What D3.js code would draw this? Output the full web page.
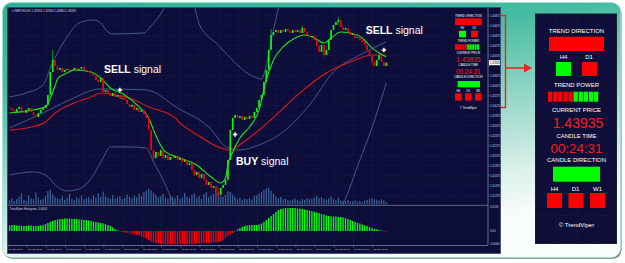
<!doctype html>
<meta charset="utf-8">
<style>
  html, body { margin: 0; padding: 0; background: #fff; }
  svg { display: block; }
  text { font-family: "Liberation Sans", Arial, sans-serif; }
</style>
<svg id="chart" width="625" height="263"></svg>
<script src="https://cdn.jsdelivr.net/npm/d3@7"></script>
<script>

// ---- data ----
const symbolTitle = "\u25BE GBPUSD,H1  1.43920 1.43940 1.43880 1.43935";
const histTitle = "TrendViper Histogram -0.0003";

const xLabels = ["11 Mar 2016","11 Mar 08:00","11 Mar 16:00","14 Mar 00:00","14 Mar 08:00",
  "14 Mar 16:00","15 Mar 00:00","15 Mar 08:00","15 Mar 16:00","16 Mar 00:00","16 Mar 08:00",
  "16 Mar 16:00","17 Mar 00:00","17 Mar 08:00","17 Mar 16:00","18 Mar 00:00","18 Mar 08:00",
  "18 Mar 16:00","21 Mar 00:00","21 Mar 08:00"];
const barsPerLabel = 8;

const priceTicks = [1.44875,1.44675,1.44475,1.44275,1.44075,1.43875,1.43675,1.43475,1.43275,
  1.43075,1.42875,1.42675,1.42475,1.42275,1.42075,1.41875,1.41675,1.41475,1.41275];
const histTicks = [0.0118, 0, -0.0064];
const histTickLabels = ["0.0118", "0.00", "-0.0064"];

const firstOpen = 1.4305;
const closes = [
  1.4303,1.4299,1.4295,1.4301,1.4305,1.4297,1.4293,1.4299,1.4303,1.4295,1.4289,1.4285,1.4293,1.4299,1.4303,
  1.4309,1.4329,1.4375,1.4399,1.4387,1.4379,1.4383,1.4375,1.4379,1.4381,1.4377,1.4379,1.4383,1.4379,1.4381,
  1.4385,1.4379,1.4377,1.4375,1.4371,1.4367,1.4359,1.4355,1.4363,1.4335,1.4339,1.4331,1.4327,1.4333,1.4325,
  1.4329,1.4321,1.4323,1.4319,1.4311,1.4305,1.4309,1.4299,1.4303,1.4295,1.4299,1.4291,1.4283,1.4259,1.4219,
  1.4203,1.4215,1.4207,1.4219,1.4203,1.4209,1.4199,1.4205,1.4203,1.4207,1.4199,1.4203,1.4195,1.4199,1.4189,
  1.4193,1.4179,1.4169,1.4175,1.4163,1.4171,1.4159,1.4149,1.4155,1.4143,1.4147,1.4135,1.4129,1.4143,1.4149,
  1.4159,1.4199,1.4259,1.4283,1.4289,1.4283,1.4287,1.4279,1.4285,1.4281,1.4287,1.4283,1.4295,1.4303,1.4319,
  1.4329,1.4355,1.4379,1.4419,1.4449,1.4455,1.4459,1.4453,1.4459,1.4455,1.4461,1.4457,1.4453,1.4459,1.4455,
  1.4459,1.4453,1.4463,1.4455,1.4449,1.4445,1.4447,1.4439,1.4427,1.4415,1.4429,1.4409,1.4419,1.4439,1.4459,
  1.4469,1.4475,1.4479,1.4465,1.4459,1.4463,1.4455,1.4449,1.4451,1.4443,1.4445,1.4439,1.4435,1.4429,1.4419,
  1.4407,1.4395,1.4387,1.4399,1.4409,1.4395,1.4387,1.43935];

// the few wicks that stand out
const wickIdx  = [18, 60, 87, 109, 122, 131, 137, 151];
const wickHigh = [1.4419, 1.4219, 1.4143, 1.4461, 1.4467, 1.4419, 1.4485, 1.4407];
const wickLow  = [1.4375, 1.4197, 1.4123, 1.4419, 1.4453, 1.4401, 1.4469, 1.4389];

const volumes = [
  420,610,350,540,780,1120,460,380,900,640,530,1210,700,480,590,
  830,1350,1480,1020,760,
  620,540,810,470,690,1050,560,430,720,610,880,500,650,740,560,
  910,680,1140,760,1290,820,700,560,950,610,730,870,540,660,1020,
  780,640,900,720,1100,850,1240,1380,1560,1420,
  1180,960,740,820,1050,690,580,870,760,640,930,520,710,1160,780,
  620,980,1120,690,840,560,1040,1220,760,930,1080,1260,1150,820,760,940,
  1320,1250,980,760,540,680,470,590,520,640,480,860,920,1080,1240,
  1460,1620,1700,1380,1120,820,640,760,520,580,
  460,380,520,610,440,380,560,470,640,520,590,700,860,640,720,
  560,470,610,780,520,460,690,420,380,330,450,290,360,410,280,
  340,260,390,450,580,620,540,470,380,520,430,260];

const histogram = [
  .00275,.003,.003,.00275,.00275,.0025,.0025,.0025,.00275,.00275,.0025,.0025,.0025,.00275,.003,
  .0035,.004,.0045,.005,.0055,
  .00575,.006,.006,.00625,.00625,.00625,.006,.006,.006,.00575,.00575,
  .0055,.0055,.00525,.005,.00475,.0045,.00425,.004,.00375,.0035,
  .003,.0025,.00175,.001,.0004,
  -.00025,-.0005,-.00075,-.001,-.00125,-.0015,-.00175,-.002,-.00225,-.00275,-.00325,-.00375,-.0045,-.00525,-.00575,-.006,-.00625,
  -.0065,-.0065,-.00675,-.00675,-.00675,-.0065,-.00675,-.00675,-.0065,-.0065,-.00675,-.00675,-.0065,-.0065,-.0065,-.00625,-.00625,-.00625,-.006,-.006,
  -.006,-.006,-.00575,-.00575,-.0055,-.00525,-.0045,-.0035,-.0025,-.00175,-.001,-.0004,
  .00075,.0015,.002,.0025,.00275,.003,.003,.003,.003,.00325,.00375,.0045,.0055,
  .0065,.0075,.0085,.0095,.0105,.011,.01125,.0115,.0115,.0115,.0115,.0115,
  .01125,.01125,.011,.01075,.0105,.01025,.01,.0095,.00925,.009,.0085,.00825,.00775,.0075,.00725,.00725,.00725,.007,.007,.00675,
  .0065,.006,.0055,.005,.0045,.004,.00375,.00325,.00275,.0025,.002,.0015,.001,.00075,.0005,.00025,-.00025,-.0003];

// indicator lines, read as knots at bar indices
const fastIdx = [0,15,17,19,20,24,27,34,38,42,48,54,58,60,62,65,71,78,84,88,90,91,93,96,100,104,107,110,114,119,123,127,131,134,138,142,147,151,154,157];
const fastVal = [1.4293,1.4305,1.4323,1.4347,1.4361,1.4373,1.4379,1.4375,1.4363,1.4343,1.4329,1.4305,1.4283,1.4259,1.4237,
  1.4215,1.4203,1.4189,1.4165,1.4153,1.4163,1.4189,1.4215,1.4243,1.4265,1.4299,1.4359,1.4399,1.4425,1.4443,
  1.4449,1.4443,1.4433,1.4443,1.4455,1.4453,1.4443,1.4423,1.4413,1.4405];
const slowIdx = [0,9,15,19,27,34,38,44,50,58,69,71,79,86,92,98,104,112,121,132,142,151,157];
const slowVal = [1.4259,1.4265,1.4275,1.4293,1.4313,1.4325,1.4333,1.4329,1.4323,1.4305,1.4283,1.4273,1.4247,1.4227,1.4219,
  1.4237,1.4259,1.4293,1.4333,1.4373,1.4395,1.4409,1.4409];
const midIdx = [0,14,25,38,57,70,83,91,96,104,114,125,135,146,157];
const midVal = [1.4263,1.4293,1.4319,1.4341,1.4339,1.4303,1.4265,1.4223,1.4219,1.4229,1.4255,1.4309,1.4375,1.4409,1.4435];
const upIdx = [0,7,14,17,20,24,29,35,38,41,43,56,59,64,67,72,75,78,79,87,92,102,105,107,110,113,117,125,140,157];
const upVal = [1.4325,1.4333,1.4349,1.4383,1.4413,1.4445,1.4473,1.4479,1.4473,1.4455,1.4451,1.4453,1.4467,1.4499,1.4529,
  1.4535,1.4529,1.4489,1.4471,1.4429,1.4403,1.4365,1.4361,1.4389,1.4459,1.4519,1.4559,1.4579,1.4579,1.4569];
const loIdx = [0,10,15,20,24,29,35,39,42,49,57,60,65,68,72,85,100,115,128,139,146,151,157];
const loVal = [1.4169,1.4175,1.4169,1.4145,1.4137,1.4141,1.4169,1.4203,1.4225,1.4225,1.4223,1.4195,1.4149,1.4115,1.4069,
  1.4019,1.3999,1.4009,1.4049,1.4111,1.4199,1.4263,1.4353];

// signals
const signalIdx = [46, 94, 156];
const signalPrice = [1.4339, 1.4250, 1.4419];
const signalType = ["SELL", "BUY", "SELL"];

// info panel
const panelLabels = ["TREND DIRECTION", "TREND POWER", "CURRENT PRICE", "CANDLE TIME", "CANDLE DIRECTION", "\u00A9 TrendViper"];
const trendMain = -1;
const trendTF = ["H4", "D1"];
const trendDir = [1, -1];
const trendPower = [-1, -1, -1, -1, -1, 1, 1, 1, 1, 1];
const currentPrice = 1.43935;
const candleTime = "00:24:31";
const candleMain = 1;
const candleTF = ["H4", "D1", "W1"];
const candleDir = [-1, -1, -1];

// ---- drawing ----
const UP = "#00ff00", DOWN = "#ff0000";
const svg = d3.select("#chart");
const defs = svg.append("defs");

const grad = defs.append("linearGradient").attr("id", "cardGrad")
  .attr("x1", 0).attr("y1", 0).attr("x2", 0.35).attr("y2", 1);
[[0, "#2cb292"], [0.3, "#44bca1"], [0.6, "#98d8c8"], [0.85, "#dcf1eb"], [1, "#f8fcfb"]]
  .forEach(s => grad.append("stop").attr("offset", s[0]).attr("stop-color", s[1]));

const plot = {x0: 9, x1: 488, y0: 8, y1: 204.5};
const sub = {y0: 206, y1: 245};

defs.append("clipPath").attr("id", "clipMain").append("rect")
  .attr("x", plot.x0).attr("y", plot.y0).attr("width", plot.x1 - plot.x0).attr("height", plot.y1 - plot.y0);
defs.append("clipPath").attr("id", "clipSub").append("rect")
  .attr("x", plot.x0).attr("y", sub.y0).attr("width", plot.x1 - plot.x0).attr("height", sub.y1 - sub.y0);

// card
svg.append("rect").attr("x", 3.5).attr("y", 3.8).attr("width", 618).attr("height", 255)
  .attr("rx", 9).attr("fill", "#7a7a7a");
svg.append("rect").attr("x", 2.5).attr("y", 2.5).attr("width", 618).attr("height", 255)
  .attr("rx", 9).attr("fill", "url(#cardGrad)").attr("stroke", "#a6e0d2").attr("stroke-width", 0.8);

// red bracket + arrow
const red = "#e8251f";
svg.append("path").attr("d", "M501,15.5H505.5V107.5H501").attr("fill", "none")
  .attr("stroke", red).attr("stroke-width", 1.4);
svg.append("line").attr("x1", 505.5).attr("x2", 526).attr("y1", 68).attr("y2", 68)
  .attr("stroke", red).attr("stroke-width", 1.6);
svg.append("path").attr("d", "M524,63.5L532,68L524,72.5Z").attr("fill", red);

// chart background
svg.append("rect").attr("x", 7.5).attr("y", 7.5).attr("width", 493).attr("height", 246)
  .attr("fill", "#0d0d3a").attr("stroke", "#3a4670").attr("stroke-width", 0.8);

const x = d3.scaleLinear().domain([0, closes.length - 1]).range([9.5, 9.5 + 2.4 * (closes.length - 1)]);
const yP = d3.scaleLinear().domain([1.44875, 1.41075]).range([15.7, 205.7]);
const yVol = d3.scaleLinear().domain([0, 2000]).range([plot.y1, plot.y1 - 20]);
const yHist = d3.scaleLinear().domain([-0.007, 0.012]).range([245, 207]);

// grid
const grid = svg.append("g").attr("stroke", "#262b5e").attr("stroke-width", 0.6).attr("stroke-dasharray", "1,1.5");
priceTicks.forEach(p => grid.append("line").attr("x1", plot.x0).attr("x2", plot.x1)
  .attr("y1", yP(p)).attr("y2", yP(p)));
xLabels.forEach((l, k) => {
  const gx = x(k * barsPerLabel) - 1.6;
  grid.append("line").attr("x1", gx).attr("x2", gx).attr("y1", plot.y0).attr("y2", plot.y1);
  grid.append("line").attr("x1", gx).attr("x2", gx).attr("y1", sub.y0).attr("y2", sub.y1);
});

const main = svg.append("g").attr("clip-path", "url(#clipMain)");

// volume
main.append("g").selectAll("rect").data(volumes).join("rect")
  .attr("x", (d, i) => x(i) - 0.6).attr("width", 1.2)
  .attr("y", d => yVol(d)).attr("height", d => yVol(0) - yVol(d))
  .attr("fill", "#3a679b");

// lines
function knotPath(idx, vals) {
  return d3.line().x((d, k) => x(idx[k])).y(d => yP(d)).curve(d3.curveMonotoneX)(vals);
}
[[upIdx, upVal], [loIdx, loVal], [midIdx, midVal]].forEach(([ix, v]) =>
  main.append("path").attr("d", knotPath(ix, v)).attr("fill", "none")
    .attr("stroke", "#4a6393").attr("stroke-width", 0.9));
main.append("path").attr("d", knotPath(slowIdx, slowVal)).attr("fill", "none")
  .attr("stroke", "#e3161b").attr("stroke-width", 1.1);
main.append("path").attr("d", knotPath(fastIdx, fastVal)).attr("fill", "none")
  .attr("stroke", "#19e619").attr("stroke-width", 1.1);

// candles
const candles = closes.map((c, i) => {
  const o = i ? closes[i - 1] : firstOpen;
  const w = wickIdx.indexOf(i);
  return {
    i, o, c,
    h: Math.max(o, c, w >= 0 ? wickHigh[w] : 0),
    l: Math.min(o, c, w >= 0 ? wickLow[w] : 9)
  };
});
const cg = main.append("g");
cg.selectAll("line").data(candles).join("line")
  .attr("x1", d => x(d.i)).attr("x2", d => x(d.i))
  .attr("y1", d => yP(d.h)).attr("y2", d => yP(d.l))
  .attr("stroke", d => d.c >= d.o ? UP : DOWN).attr("stroke-width", 0.6);
cg.selectAll("rect").data(candles).join("rect")
  .attr("x", d => x(d.i) - 0.8).attr("width", 1.6)
  .attr("y", d => yP(Math.max(d.o, d.c)))
  .attr("height", d => Math.max(0.8, Math.abs(yP(d.o) - yP(d.c))))
  .attr("fill", d => d.c >= d.o ? UP : DOWN);

// signals
const labelOffsets = [[-16, -17.3], [0.9, 30.5], [-18.2, -15.7]];
signalIdx.forEach((si, k) => {
  const sx = x(si), sy = yP(signalPrice[k]);
  svg.append("path").attr("transform", `translate(${sx},${sy})`)
    .attr("d", d3.symbol(d3.symbolCross, 11)()).attr("fill", "#fff");
  const t = svg.append("text").attr("x", sx + labelOffsets[k][0]).attr("y", sy + labelOffsets[k][1])
    .attr("fill", "#fff").attr("font-size", 10.5);
  t.append("tspan").attr("font-weight", "bold").text(signalType[k]);
  t.append("tspan").text(" signal");
});

// titles
svg.append("text").attr("x", 11.5).attr("y", 11.6).attr("font-size", 2.9).attr("fill", "#d8d8e4").text(symbolTitle);
svg.append("text").attr("x", 9.5).attr("y", 209.6).attr("font-size", 2.8).attr("fill", "#d8d8e4").text(histTitle);

// frame lines
const fr = svg.append("g").attr("stroke", "#8d8fa8").attr("stroke-width", 0.7).attr("fill", "none");
fr.append("line").attr("x1", plot.x1).attr("x2", plot.x1).attr("y1", plot.y0).attr("y2", sub.y1);
fr.append("line").attr("x1", plot.x0 - 1).attr("x2", plot.x1).attr("y1", 205.3).attr("y2", 205.3);
fr.append("line").attr("x1", plot.x0 - 1).attr("x2", plot.x1).attr("y1", sub.y1 + 0.5).attr("y2", sub.y1 + 0.5);

// price axis
const ax = svg.append("g").attr("font-size", 2.8).attr("fill", "#d0d2de");
const tagY = yP(currentPrice);
priceTicks.forEach(p => {
  const ty = yP(p);
  ax.append("line").attr("x1", plot.x1).attr("x2", plot.x1 + 1.5).attr("y1", ty).attr("y2", ty)
    .attr("stroke", "#8d8fa8").attr("stroke-width", 0.5);
  if (Math.abs(ty - tagY) > 4)
    ax.append("text").attr("x", plot.x1 + 2).attr("y", ty + 1).text(p.toFixed(5));
});
ax.append("rect").attr("x", plot.x1 + 1).attr("y", tagY - 2.5).attr("width", 11).attr("height", 5).attr("fill", "#fff");
ax.append("text").attr("x", plot.x1 + 2).attr("y", tagY + 1).attr("fill", "#000").text(currentPrice.toFixed(5));
histTicks.forEach((v, k) => ax.append("text").attr("x", plot.x1 + 2).attr("y", yHist(v) + 1).text(histTickLabels[k]));

// time axis
xLabels.forEach((l, k) => {
  const lx = x(k * barsPerLabel) - 1.6;
  ax.append("line").attr("x1", lx).attr("x2", lx).attr("y1", sub.y1 + 0.5).attr("y2", sub.y1 + 2.5)
    .attr("stroke", "#8d8fa8").attr("stroke-width", 0.5);
  ax.append("text").attr("x", lx + 0.8).attr("y", 250.3).attr("font-size", 2.5).text(l);
});

// histogram
svg.append("g").attr("clip-path", "url(#clipSub)").selectAll("rect").data(histogram).join("rect")
  .attr("x", (d, i) => x(i) - 0.7).attr("width", 1.4)
  .attr("y", d => yHist(Math.max(0, d)))
  .attr("height", d => Math.max(0.4, Math.abs(yHist(d) - yHist(0))))
  .attr("fill", d => d >= 0 ? UP : DOWN);

// info panels
const dirColor = v => v > 0 ? UP : DOWN;
function box(g, r, fill) {
  g.append("rect").attr("x", r[0]).attr("y", r[1]).attr("width", r[2]).attr("height", r[3]).attr("fill", fill);
}
function drawPanel(g, L) {
  const label = (txt, lx, ly, size, fill) => g.append("text").attr("x", lx).attr("y", ly)
    .attr("text-anchor", "middle").attr("fill", fill || "#fff").attr("font-size", size).text(txt);
  label(panelLabels[0], L.cx, L.t[0], L.font);
  box(g, L.bar1, dirColor(trendMain));
  trendTF.forEach((tf, k) => {
    label(tf, L.tfX[k], L.tfY, L.font);
    box(g, [L.sqX[k], L.sqY, L.sq[0], L.sq[1]], dirColor(trendDir[k]));
  });
  label(panelLabels[1], L.cx, L.t[1], L.font);
  trendPower.forEach((v, k) => box(g, [L.pw[0] + k * L.pw[2], L.pw[1], L.pw[3], L.pw[4]], dirColor(v)));
  label(panelLabels[2], L.cx, L.t[2], L.font);
  label(currentPrice.toFixed(5), L.cx + L.priceDx, L.priceY, L.big, "#ff1a1a");
  label(panelLabels[3], L.cx, L.t[3], L.font);
  label(candleTime, L.cx, L.timeY, L.big * 0.95, "#ff1a1a");
  label(panelLabels[4], L.cx, L.t[4], L.font);
  box(g, L.bar2, dirColor(candleMain));
  candleTF.forEach((tf, k) => {
    label(tf, L.ctfX[k], L.ctfY, L.font);
    box(g, [L.csqX[k], L.csqY, L.csq[0], L.csq[1]], dirColor(candleDir[k]));
  });
  label(panelLabels[5], L.cx, L.t[5], L.font);
}

const small = {
  cx: 468.3, font: 2.9, big: 6.7, priceDx: 0,
  t: [16.8, 42.1, 53.7, 66.4, 78.4, 108.8],
  bar1: [455, 18.3, 26.7, 6.7],
  tfX: [462.3, 474.3], tfY: 28.8, sqX: [459, 471], sqY: 30.7, sq: [7, 6.7],
  pw: [455, 44.3, 2.45, 2.0, 5.5],
  priceY: 61.8, timeY: 74.3,
  bar2: [457.7, 81, 22.3, 6.3],
  ctfX: [458.3, 468.3, 478.3], ctfY: 91.8, csqX: [455, 465, 475], csqY: 93.3, csq: [6.7, 7.3]
};
drawPanel(svg.append("g"), small);

const bigG = svg.append("g");
bigG.append("rect").attr("x", 535.5).attr("y", 14).attr("width", 81).attr("height", 229.5)
  .attr("fill", "#0e0e38").attr("stroke", "#1c1c2c").attr("stroke-width", 1);
const pg = bigG.append("g").attr("stroke", "#242a5e").attr("stroke-width", 0.6).attr("stroke-dasharray", "1,1.5");
[53, 108, 160, 215.5, 238].forEach(gy => pg.append("line").attr("x1", 537).attr("x2", 615).attr("y1", gy).attr("y2", gy));
[556, 577, 598].forEach(gx => pg.append("line").attr("x1", gx).attr("x2", gx).attr("y1", 16).attr("y2", 242));
const big = {
  cx: 576.5, font: 6, big: 14, priceDx: 1.5,
  t: [33, 87, 112, 137.7, 162, 226.5],
  bar1: [549, 36.7, 55, 14.3],
  tfX: [563.5, 589], tfY: 58.5, sqX: [556, 582], sqY: 62, sq: [15, 14],
  pw: [548, 91.7, 5.1, 4.3, 10],
  priceY: 128, timeY: 153,
  bar2: [553, 166.7, 47, 15],
  ctfX: [554.5, 575.5, 597.5], ctfY: 190.7, csqX: [547, 568.5, 590], csqY: 193, csq: [15, 15]
};
drawPanel(bigG, big);

</script>
